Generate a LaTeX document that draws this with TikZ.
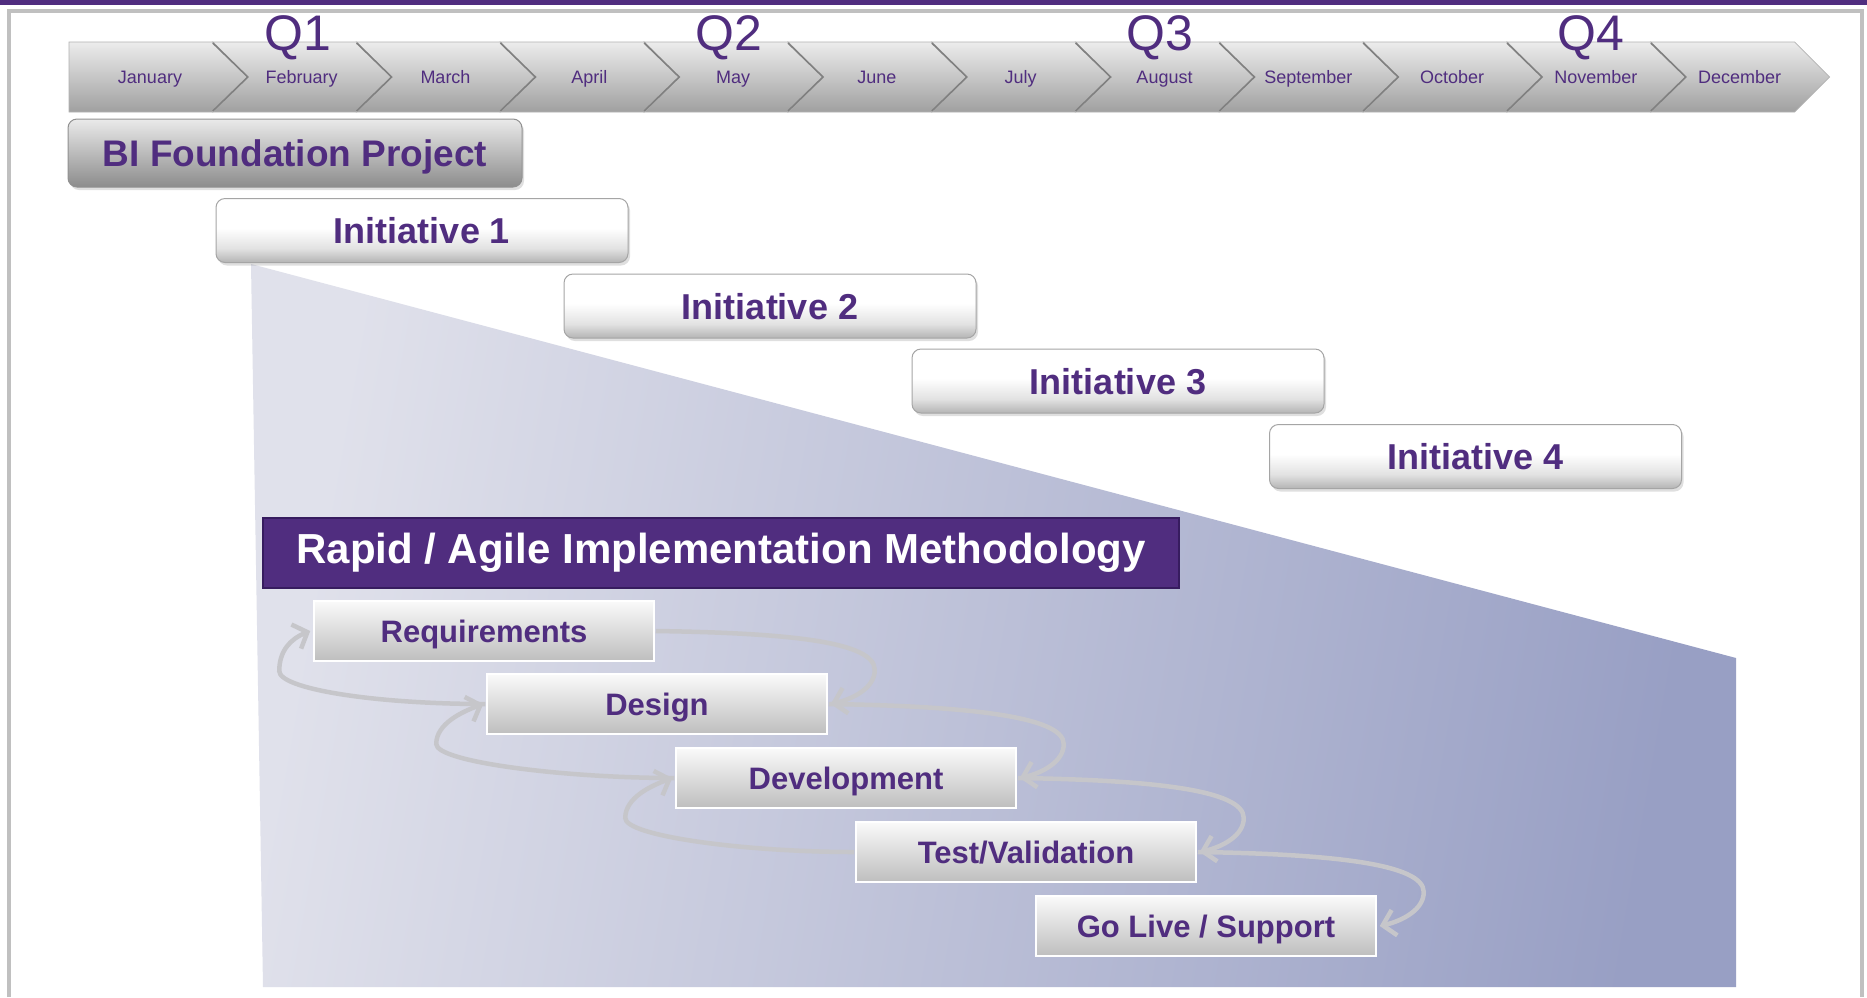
\documentclass[tikz,border=0pt]{standalone}
\usepackage{fontspec}
\setmainfont{Liberation Sans}
\usetikzlibrary{arrows.meta,calc,shadows}
\definecolor{pur}{RGB}{80,45,127}
\definecolor{purd}{RGB}{55,28,95}
\definecolor{arr}{RGB}{198,198,202}
\definecolor{frm}{RGB}{192,192,192}
\definecolor{trL}{RGB}{224,225,235}
\definecolor{trR}{RGB}{152,159,196}
\definecolor{chT}{RGB}{236,236,236}
\definecolor{chM}{RGB}{206,206,206}
\definecolor{chB}{RGB}{160,160,160}
\definecolor{inG}{RGB}{180,180,180}
\definecolor{inM}{RGB}{226,226,226}
\pgfdeclareverticalshading{initsh}{100bp}{color(0bp)=(inG); color(25bp)=(inG); color(36bp)=(inM); color(52bp)=(white); color(100bp)=(white)}
\begin{document}
\begin{tikzpicture}[x=1pt,y=-1pt,
  month/.style={font=\fontsize{18}{20}\selectfont, text=pur, inner sep=0pt},
  qlab/.style={font=\fontsize{50}{52}\selectfont, text=pur, inner sep=0pt},
  chev/.style={top color=chT, middle color=chM, bottom color=chB, draw={rgb,255:red,178;green,178;blue,178}, line width=0.8pt},
  notch/.style={draw={rgb,255:red,128;green,128;blue,128}, line width=1.6pt},
  bibox/.style={rounded corners=9pt, minimum width=454pt, minimum height=68pt, inner sep=0pt,
    top color={rgb,255:red,234;green,234;blue,234}, bottom color={rgb,255:red,140;green,140;blue,140},
    draw={rgb,255:red,145;green,145;blue,145}, line width=1pt, text=pur, text depth=0pt,
    font=\bfseries\fontsize{37}{40}\selectfont,
    drop shadow={opacity=0.25,shadow xshift=2pt,shadow yshift=-3pt}},
  initbox/.style={rounded corners=9pt, minimum width=412pt, minimum height=64pt, inner sep=0pt,
    shading=initsh, draw={rgb,255:red,165;green,165;blue,165}, line width=1pt, text=pur, text depth=0pt,
    font=\bfseries\fontsize{36}{40}\selectfont,
    drop shadow={opacity=0.25,shadow xshift=2pt,shadow yshift=-3pt}},
  headbox/.style={minimum width=916pt, minimum height=70pt, inner sep=0pt, fill=pur, draw=purd, line width=1.5pt,
    text=white, font=\bfseries\fontsize{42}{46}\selectfont},
  procbox/.style={minimum width=340pt, minimum height=60pt, inner sep=0pt,
    top color={rgb,255:red,250;green,250;blue,250}, bottom color={rgb,255:red,190;green,190;blue,190},
    draw=white, line width=1.5pt, text=pur, text depth=0pt, font=\bfseries\fontsize{31}{34}\selectfont},
  cyc/.style={draw=arr, line width=4.5pt, -{Straight Barb[length=12pt,width=26pt]}}
]
\useasboundingbox (0,0) rectangle (1867,997);
\fill[white] (0,0) rectangle (1867,997);
% header bar and frame
\fill[pur] (0,0) rectangle (1867,5);
\draw[frm, line width=4pt] (9,997) -- (9,11) -- (1862,11) -- (1862,997);

% month chevrons
\foreach \m [count=\i] in {January,February,March,April,May,June,July,August,September,October,November,December} {
  \pgfmathsetmacro\L{69+143.8*(\i-1)}
  \pgfmathsetmacro\R{\L+143.8}
  \pgfmathsetmacro\N{ifthenelse(\i==1,0,35)}
  \pgfmathsetmacro\C{ifthenelse(\i==1,150,(\L+\R)/2+17)}
  \path[chev] (\L,42) -- (\R,42) -- (\R+35,77) -- (\R,112) -- (\L,112) -- (\L+\N,77) -- cycle;
  \ifnum\i>1 \draw[notch] (\L,43) -- (\L+35,77) -- (\L,111); \fi
  \node[month, anchor=base] (m\i) at (\C,83) {\m};
}
% quarter labels
\node[qlab, anchor=base] (q1) at (298,50) {Q1};
\node[qlab, anchor=base] (q2) at (729,50) {Q2};
\node[qlab, anchor=base] (q3) at (1160,50) {Q3};
\node[qlab, anchor=base] (q4) at (1591,50) {Q4};

% trapezoid
\shade[left color=trL, right color=trR, shading angle=80] (251,264) -- (1736,658) -- (1736,987) -- (263,987) -- cycle;

% project and initiatives
\node[bibox] (bi) at (295,153) {BI Foundation Project};
\node[initbox] (i1) at (422,230.5) {Initiative 1};
\node[initbox] (i2) at (770,306) {Initiative 2};
\node[initbox] (i3) at (1118,381) {Initiative 3};
\node[initbox] (i4) at (1475.5,456.5) {Initiative 4};

% methodology
\node[headbox] (rapid) at (721,553) {Rapid / Agile Implementation Methodology};
\node[procbox] (req) at (484,631) {Requirements};
\node[procbox] (des) at (657,704) {Design};
\node[procbox] (dev) at (846,778) {Development};
\node[procbox] (tst) at (1026,852) {Test/Validation};
\node[procbox] (gol) at (1206,926) {Go Live / Support};

% forward (right side) loops
\foreach \a/\b in {req/des,des/dev,dev/tst,tst/gol} {
  \draw[cyc] ([xshift=1pt]\a.east) .. controls +(135,2) and +(0,-28) .. ($(\b.east)+(47,-34)$)
    .. controls +(0,18) and +(22,-5) .. ([xshift=3pt]\b.east);
}
% backward (left side) loops
\draw[cyc] ([xshift=-1pt]des.west) .. controls +(-110,0) and +(0,18) .. ($(req.west)+(-34,40)$)
    .. controls +(0,-20) and +(-20,8) .. ([xshift=-3pt]req.west);
\foreach \a/\b in {dev/des,tst/dev} {
  \draw[cyc] ([xshift=-1pt]\a.west) .. controls +(-110,0) and +(0,18) .. ($(\b.west)+(-50,40)$)
    .. controls +(0,-20) and +(-22,8) .. ([xshift=-3pt]\b.west);
}
\end{tikzpicture}
\end{document}
